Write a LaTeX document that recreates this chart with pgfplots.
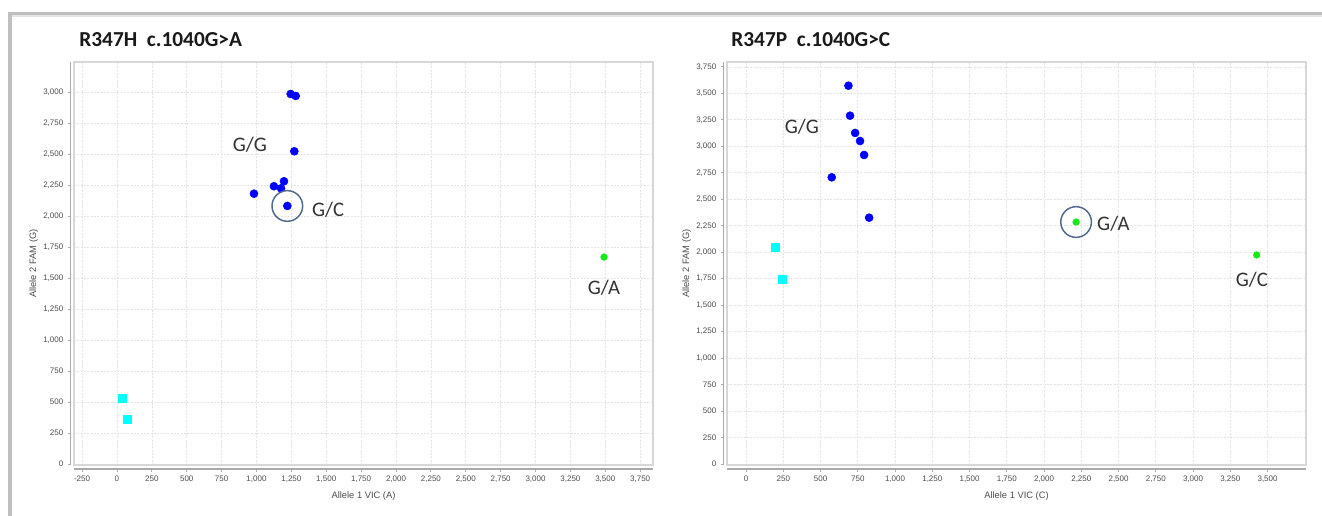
\documentclass[border=0pt]{standalone}
\usepackage{pgfplots}
\pgfplotsset{compat=1.18}
\usepackage{fontspec}
\setmainfont{Liberation Sans}
\newfontfamily\calfont{Carlito}
\definecolor{circcol}{RGB}{80,104,140}
\definecolor{framecol}{RGB}{215,215,215}
\definecolor{axcol}{RGB}{170,170,170}
\definecolor{ptgreen}{RGB}{20,235,20}
\definecolor{ptcyan}{RGB}{0,255,255}
\definecolor{ptblue}{RGB}{0,0,255}
\pgfplotsset{
  myax/.style={
    scale only axis, anchor=south west,
    width=434.25pt, height=302.25pt,
    axis lines*=left,
    axis line style={axcol, line width=1pt, -},
    axis x line shift=3pt, axis y line shift=2.5pt,
    scaled ticks=false,
    /pgf/number format/.cd, 1000 sep={,}, assume math mode=true, /pgfplots/.cd,
    ticklabel style={font=\fontsize{6}{7}\selectfont, text=black!70},
    tick align=outside, major tick length=2pt,
    tick style={axcol, line width=0.6pt},
    grid=major, grid style={gray!22, dash pattern=on 1.5pt off 1pt, line width=0.5pt},
    xlabel style={font=\fontsize{7}{8}\selectfont, text=black!70},
    ylabel style={font=\fontsize{7}{8}\selectfont, text=black!70},
    ylabel shift=-3pt,
    clip=false,
  },
  gg/.style={only marks, mark=*, mark size=3pt, draw=ptblue, fill=ptblue},
  hom/.style={only marks, mark=square*, mark size=3pt, draw=ptcyan, fill=ptcyan},
  het/.style={only marks, mark=*, mark size=2.5pt, draw=ptgreen, fill=ptgreen},
  ring/.style={only marks, mark=o, mark size=11.5pt, mark options={draw=circcol, line width=1.1pt}},
}
\tikzset{ann/.style={font=\calfont\fontsize{15.5}{16}\selectfont, text=black!80}}
\begin{document}
\begin{tikzpicture}
\useasboundingbox (0,0) rectangle (991.5pt,387pt);
% panel decorations
\fill[gray!50] (6pt,0pt) rectangle (9pt,378pt);
\fill[gray!50] (6pt,375.75pt) rectangle (991.5pt,378pt);
\fill[gray!20] (9pt,374.5pt) rectangle (991.5pt,375.75pt);
% titles
\node[anchor=west, font=\calfont\bfseries\fontsize{16}{18}\selectfont, text=black!90] at (56pt,357pt) {R347H\ \ c.1040G>A};
\node[anchor=west, font=\calfont\bfseries\fontsize{16}{18}\selectfont, text=black!90] at (545pt,357pt) {R347P\ \ c.1040G>C};

\begin{axis}[myax, at={(55.5pt,38.25pt)},
  xmin=-308, xmax=3842, ymin=-8, ymax=3242,
  xtick={-250,0,250,...,3750}, ytick={0,250,...,3000},
  xlabel={Allele 1 VIC (A)}, ylabel={Allele 2 FAM (G)}]
\draw[framecol, line width=0.8pt] (rel axis cs:0,0) rectangle (rel axis cs:1,1);
\addplot[gg] coordinates {(1245,2984) (1281,2968) (1271,2522) (1197,2280) (1125,2240) (1176,2223) (982,2180) (1221,2081)};
\addplot[hom] coordinates {(36,532) (72,363)};
\addplot[het] coordinates {(3491,1669)};
\addplot[ring] coordinates {(1221,2081)};
\node[ann] at (axis cs:953,2573) {G/G};
\node[ann] at (axis cs:1513,2048) {G/C};
\node[ann] at (axis cs:3491,1419) {G/A};
\end{axis}

\begin{axis}[myax, at={(545.25pt,38.25pt)},
  xmin=-128, xmax=3758, ymin=-9, ymax=3796,
  xtick={0,250,...,3500}, ytick={0,250,...,3750},
  xlabel={Allele 1 VIC (C)}, ylabel={Allele 2 FAM (G)}]
\draw[framecol, line width=0.8pt] (rel axis cs:0,0) rectangle (rel axis cs:1,1);
\addplot[gg] coordinates {(687,3572) (698,3289) (732,3126) (765,3050) (792,2918) (575,2707) (826,2326)};
\addplot[hom] coordinates {(195,2043) (246,1744)};
\addplot[het] coordinates {(2215,2285) (3427,1974)};
\addplot[ring] coordinates {(2215,2285)};
\node[ann] at (axis cs:374,3185) {G/G};
\node[ann] at (axis cs:2465,2273) {G/A};
\node[ann] at (axis cs:3394,1737) {G/C};
\end{axis}
\end{tikzpicture}
\end{document}
